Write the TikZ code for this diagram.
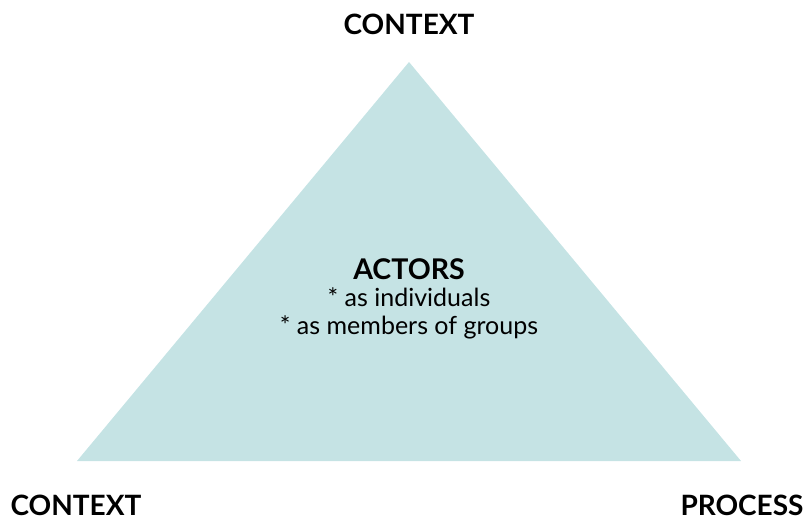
\documentclass[tikz,border=0pt]{standalone}
\usepackage{fontspec}
\setmainfont{Lato}
\usepackage{xcolor}
\definecolor{teal light}{HTML}{C5E3E4}
\usetikzlibrary{positioning}

\begin{document}
\begin{tikzpicture}[x=1pt,y=-1pt,
                    corner label/.style={font=\bfseries\fontsize{28}{32}\selectfont,anchor=base,inner sep=0pt},
                    actor text/.style={font=\fontsize{25}{30}\selectfont,anchor=base,inner sep=0pt}]
  \useasboundingbox (0,0) rectangle (810,521);

  % triangle
  \coordinate (apex) at (409,62);
  \coordinate (left) at (77,461);
  \coordinate (right) at (741,461);
  \fill[teal light] (apex) -- (left) -- (right) -- cycle;

  \node[corner label] (top) at (409,35) {CONTEXT};
  \node[corner label] (ctx) at (76,515) {CONTEXT};
  \node[corner label] (proc) at (742,515) {PROCESS};

  \node[actor text,font=\bfseries\fontsize{28.5}{32}\selectfont] (actors) at (409,279) {ACTORS};
  \node[actor text] (ind) at (409,306) {* as individuals};
  \node[actor text] (grp) at (409,334) {* as members of groups};
\end{tikzpicture}
\end{document}
